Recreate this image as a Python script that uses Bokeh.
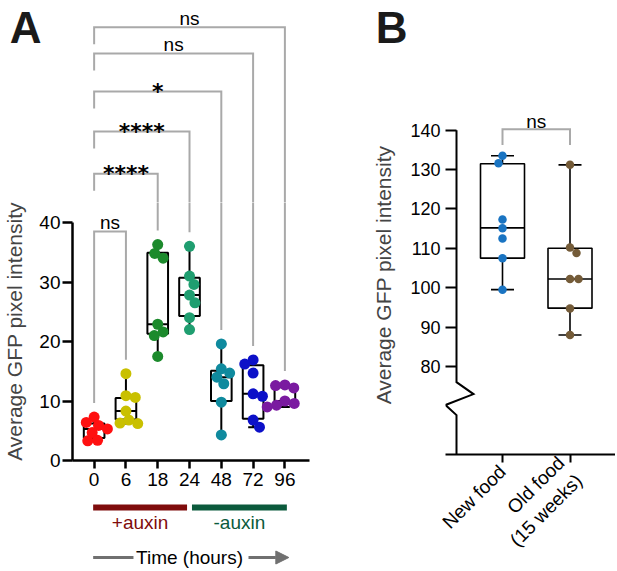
import math
from bokeh.plotting import figure
from bokeh.layouts import row, column
from bokeh.models import Range1d, FixedTicker, Arrow, NormalHead
from bokeh.embed import file_html
from bokeh.resources import INLINE
from bokeh.core.properties import value

# ---------------- data: panel A ----------------
time_labels = ["0", "6", "18", "24", "48", "72", "96"]
gfp_0h = [7.3, 6.4, 5.9, 5.3, 4.7, 3.4, 3.3]
gfp_6h = [14.6, 10.9, 10.6, 8.3, 6.8, 6.3, 6.2]
gfp_18h = [36.3, 34.8, 34.0, 22.9, 21.6, 21.0, 17.5]
gfp_24h = [36.0, 31.0, 29.6, 27.8, 26.5, 24.0, 22.0]
gfp_48h = [19.6, 15.4, 14.7, 14.0, 12.9, 9.8, 4.3]
gfp_72h = [16.9, 16.2, 14.7, 11.2, 10.8, 6.8, 5.6]
gfp_96h = [12.7, 12.6, 12.2, 10.0, 9.6, 9.3, 9.0]
a_q1 = [3.8, 6.9, 21.3, 24.3, 10.0, 7.0, 9.5]
a_median = [5.3, 8.3, 22.9, 27.8, 14.0, 11.2, 10.0]
a_q3 = [6.2, 10.5, 34.9, 30.7, 15.1, 16.0, 12.3]
a_ticks = [0, 10, 20, 30, 40]
comparison_labels = ["ns", "****", "****", "*", "ns", "ns"]   # 0 h vs 6..96 h
comparison_levels = [38.5, 48.2, 55.3, 62.0, 68.4, 72.8]
phase_labels = ["+auxin", "-auxin"]
phase_start = [0, 3]
phase_end = [3, 6]
axis_title = "Average GFP pixel intensity"
time_title = "Time (hours)"

# ---------------- data: panel B ----------------
food_labels = ["New food", "Old food\n(15 weeks)"]
new_food = [133.5, 131.6, 117.3, 115.1, 112.5, 107.5, 99.5]
old_food = [131.2, 110.2, 108.8, 102.2, 102.2, 94.7, 88.0]
b_q1 = [107.5, 94.8]
b_median = [115.2, 102.2]
b_q3 = [131.5, 110.0]
b_comparison = "ns"
b_comparison_level = 140.25
b_ticks = [80, 90, 100, 110, 120, 130, 140]

# ---------------- styles ----------------
FONT = "Liberation Sans"
A_COLORS = ["#ff1010", "#c9c000", "#1c8a2c", "#1f9e70", "#0f8a9e", "#0c10c8", "#7a1aa0"]
B_COLORS = ["#1a74c2", "#745b38"]
BRACKET = "#a9a9a9"
PLUS_COLOR = "#7f0c0c"
MINUS_COLOR = "#0b5a3c"
ARROW_GRAY = "#707070"
LETTER_SIZE = "44px"


def swarm(vals, px_y, diam, overlap=0.85):
    order = sorted(range(len(vals)), key=lambda i: -vals[i])
    placed = []
    offs = [0.0] * len(vals)
    for k, i in enumerate(order):
        y = vals[i] * px_y
        pref = 1 if k % 2 == 0 else -1
        chosen = 0.0
        done = False
        for step in range(400):
            for sg in (pref, -pref):
                o = sg * step * 0.5
                if all((o - po) ** 2 + (y - yy) ** 2 >= (diam * overlap) ** 2 for po, yy in placed):
                    chosen = o
                    done = True
                    break
            if done:
                break
        offs[i] = chosen
        placed.append((chosen, y))
    return offs


def style_fig(p):
    p.outline_line_color = None
    p.grid.grid_line_color = None
    p.background_fill_color = "white"
    p.border_fill_color = "white"


def letter_axis(p, tick, text, standoff):
    ax = p.yaxis[0]
    ax.ticker = FixedTicker(ticks=[tick])
    ax.major_label_overrides = {tick: text}
    ax.axis_line_color = None
    ax.major_tick_line_color = None
    ax.minor_tick_line_color = None
    ax.major_tick_in = 0
    ax.major_tick_out = 0
    ax.major_label_standoff = standoff
    ax.major_label_text_font = FONT
    ax.major_label_text_font_size = LETTER_SIZE
    ax.major_label_text_font_style = "bold"
    ax.major_label_text_color = "#1a1a1a"


TOTAL_H = 569
LETTER_MID = 27            # y (px) of the letters' text-box centre
common = dict(output_backend="svg", toolbar_location=None)

# ================= Panel A =================
A_PX_X, A_PX_Y = 32.33, 5.95
A_W = 310
A_BL, A_BR, A_BB = 68, 1, 35
A_X0 = 90                  # px of the first category
A_Y0 = 460                 # px of value 0
A_SPLIT = 202              # px where the bracket strip ends and the data frame starts
A_MAIN_END = 495


def a_val(py):
    return (A_Y0 - py) / A_PX_Y


xa_range = Range1d((A_BL - A_X0) / A_PX_X, (A_W - A_BR - A_X0) / A_PX_X)
split_val = a_val(A_SPLIT)

pA_top = figure(width=A_W, height=A_SPLIT, x_range=xa_range, y_range=Range1d(split_val, a_val(0)),
                x_axis_location=None, min_border_left=A_BL, min_border_right=A_BR,
                min_border_top=0, min_border_bottom=0, **common)
pA = figure(width=A_W, height=A_MAIN_END - A_SPLIT, x_range=xa_range, y_range=Range1d(0, split_val),
            min_border_left=A_BL, min_border_right=A_BR, min_border_top=0, min_border_bottom=A_BB, **common)
style_fig(pA_top)
style_fig(pA)
letter_axis(pA_top, round(a_val(LETTER_MID), 2), "A", 31)

groups = [gfp_0h, gfp_6h, gfp_18h, gfp_24h, gfp_48h, gfp_72h, gfp_96h]
n = len(groups)
xs = list(range(n))
gmax = [max(g) for g in groups]
gmin = [min(g) for g in groups]
hw = 10.5 / A_PX_X
cw = 5.0 / A_PX_X

pA.segment(x0=xs, y0=gmax, x1=xs, y1=a_q3, line_color="black", line_width=2)
pA.segment(x0=xs, y0=a_q1, x1=xs, y1=gmin, line_color="black", line_width=2)
pA.segment(x0=[x - cw for x in xs], y0=gmax, x1=[x + cw for x in xs], y1=gmax, line_color="black", line_width=2)
pA.segment(x0=[x - cw for x in xs], y0=gmin, x1=[x + cw for x in xs], y1=gmin, line_color="black", line_width=2)
pA.quad(left=[x - hw for x in xs], right=[x + hw for x in xs], bottom=a_q1, top=a_q3,
        fill_color=None, line_color="black", line_width=2)
pA.segment(x0=[x - hw for x in xs], y0=a_median, x1=[x + hw for x in xs], y1=a_median,
           line_color="black", line_width=2)

for gi, g in enumerate(groups):
    offs = swarm(g, A_PX_Y, 11)
    pA.scatter(x=[gi + o / A_PX_X for o in offs], y=g, size=11,
               fill_color=A_COLORS[gi], line_color=None)

# significance brackets (drawn in both frames, each clips to its own frame)
gap = 14 / A_PX_Y
leg = 17 / A_PX_Y
bx, by = [], []
for k, lev in enumerate(comparison_levels):
    j = k + 1
    left_bottom = gmax[0] + gap if k == 0 else lev - leg
    bx.append([0, 0, j, j])
    by.append([left_bottom, lev, lev, gmax[j] + gap])
for p in (pA_top, pA):
    p.multi_line(xs=bx, ys=by, line_color=BRACKET, line_width=2, line_join="miter")

NS_OFF = 9      # px between an "ns" baseline and its bracket
for p, in_top in ((pA_top, True), (pA, False)):
    def centre_px(k):
        lev_px = A_Y0 - comparison_levels[k] * A_PX_Y
        return lev_px - NS_OFF - 7 if comparison_labels[k] == "ns" else lev_px - 10
    sel = [k for k in range(len(comparison_levels)) if (centre_px(k) < A_SPLIT) == in_top]
    ns = [k for k in sel if comparison_labels[k] == "ns"]
    st = [k for k in sel if comparison_labels[k] != "ns"]
    if ns:
        p.text(x=[(k + 1) / 2 for k in ns], y=[comparison_levels[k] + NS_OFF / A_PX_Y for k in ns],
               text=[comparison_labels[k] for k in ns], text_align="center", text_baseline="alphabetic",
               text_font=value(FONT), text_font_size="19px", text_color="black")
    if st:
        p.text(x=[(k + 1) / 2 for k in st], y=[comparison_levels[k] for k in st],
               text=[comparison_labels[k] for k in st], text_align="center", text_baseline="alphabetic",
               text_font=value("DejaVu Sans"), text_font_style="bold", text_font_size="22px",
               text_color="black")

# axes
pA.xaxis.ticker = FixedTicker(ticks=xs)
pA.xaxis.major_label_overrides = {i: t for i, t in enumerate(time_labels)}
pA.yaxis.ticker = FixedTicker(ticks=a_ticks)
pA.yaxis.bounds = (a_ticks[0], a_ticks[-1])
pA.yaxis.axis_label = axis_title
pA.yaxis.axis_label_text_font = FONT
pA.yaxis.axis_label_text_font_style = "normal"
pA.yaxis.axis_label_text_font_size = "21px"
pA.yaxis.axis_label_standoff = 10
for ax in (pA.xaxis, pA.yaxis):
    ax.axis_line_width = 2.5
    ax.axis_line_color = "black"
    ax.major_tick_line_width = 2.5
    ax.major_tick_line_color = "black"
    ax.major_tick_in = 0
    ax.minor_tick_line_color = None
    ax.major_label_text_font = FONT
    ax.major_label_text_font_size = "19px"
    ax.major_label_text_color = "black"
pA.yaxis.major_tick_out = 10
pA.yaxis.major_label_standoff = 2
pA.xaxis.major_tick_out = 8
pA.xaxis.major_label_standoff = 4

# ---- Panel A bottom strip (treatment bars + time arrow) ----
AB_H = TOTAL_H - A_MAIN_END
pAb = figure(width=A_W, height=AB_H, x_range=xa_range, y_range=Range1d(AB_H, 0),
             x_axis_location=None, y_axis_location=None,
             min_border_left=A_BL, min_border_right=A_BR, min_border_top=0, min_border_bottom=0, **common)
style_fig(pAb)
half_gap = 2.5 / A_PX_X
bar_left = [s + (half_gap if s > 0 else -1 / A_PX_X) for s in phase_start]
bar_right = [e - (half_gap if e < n - 1 else -2 / A_PX_X) for e in phase_end]
phase_colors = [PLUS_COLOR, MINUS_COLOR]
pAb.hbar(y=[12, 12], left=bar_left, right=bar_right, height=6, fill_color=phase_colors, line_color=None)
pAb.text(x=[(l + r) / 2 for l, r in zip(bar_left, bar_right)], y=[27, 27], text=phase_labels,
         text_align="center", text_baseline="middle", text_font=value(FONT), text_font_size="19px",
         text_color=phase_colors)
mid = (n - 1) / 2
pAb.text(x=[mid], y=[62], text=[time_title], text_align="center", text_baseline="middle",
         text_font=value(FONT), text_font_size="19px", text_color="black")
pAb.segment(x0=[-1 / A_PX_X], y0=[62], x1=[40 / A_PX_X], y1=[62], line_color=ARROW_GRAY, line_width=3)
pAb.add_layout(Arrow(x_start=(n - 1) - 37 / A_PX_X, y_start=62, x_end=(n - 1) + 4 / A_PX_X, y_end=62,
                     line_color=ARROW_GRAY, line_width=3,
                     end=NormalHead(size=13, fill_color=ARROW_GRAY, line_color=ARROW_GRAY, line_width=1)))

# ================= Panel B =================
B_PX_X, B_PX_Y = 67.5, 3.97
B_W = 305
B_BL, B_BB = 135, 112
B_FRAME_LEFT = A_W + B_BL
B_X1 = 502                 # px of the first category
B_140 = 130                # px of value 140
B_SPLIT = 95               # px where the letter strip ends


def b_val(py):
    return 140 - (py - B_140) / B_PX_Y


B_ZERO = b_val(TOTAL_H - B_BB)      # plotted position of 0 on the broken axis
xb_range = Range1d(1 + (B_FRAME_LEFT - B_X1) / B_PX_X, 1 + (A_W + B_W - B_X1) / B_PX_X)

pB_top = figure(width=B_W, height=B_SPLIT, x_range=xb_range, y_range=Range1d(b_val(B_SPLIT), b_val(0)),
                x_axis_location=None, min_border_left=B_BL, min_border_right=0,
                min_border_top=0, min_border_bottom=0, **common)
pB = figure(width=B_W, height=TOTAL_H - B_SPLIT, x_range=xb_range, y_range=Range1d(B_ZERO, b_val(B_SPLIT)),
            min_border_left=B_BL, min_border_right=0, min_border_top=0, min_border_bottom=B_BB, **common)
style_fig(pB_top)
style_fig(pB)
letter_axis(pB_top, round(b_val(LETTER_MID), 2), "B", 38)

foods = [new_food, old_food]
bxs = [1, 2]
bmax = [max(g) for g in foods]
bmin = [min(g) for g in foods]
bhw = 22 / B_PX_X
bcw = 11.5 / B_PX_X
pB.segment(x0=bxs, y0=bmax, x1=bxs, y1=b_q3, line_color="black", line_width=1.6)
pB.segment(x0=bxs, y0=b_q1, x1=bxs, y1=bmin, line_color="black", line_width=1.6)
pB.segment(x0=[x - bcw for x in bxs], y0=bmax, x1=[x + bcw for x in bxs], y1=bmax, line_color="black", line_width=1.6)
pB.segment(x0=[x - bcw for x in bxs], y0=bmin, x1=[x + bcw for x in bxs], y1=bmin, line_color="black", line_width=1.6)
pB.quad(left=[x - bhw for x in bxs], right=[x + bhw for x in bxs], bottom=b_q1, top=b_q3,
        fill_color=None, line_color="black", line_width=1.6)
pB.segment(x0=[x - bhw for x in bxs], y0=b_median, x1=[x + bhw for x in bxs], y1=b_median,
           line_color="black", line_width=1.6)
for gi, g in enumerate(foods):
    offs = swarm(g, B_PX_Y, 8.5, overlap=1.0)
    pB.scatter(x=[bxs[gi] + o / B_PX_X for o in offs], y=g, size=8.5,
               fill_color=B_COLORS[gi], line_color=None)

# bracket
b_leg = 16 / B_PX_Y
pB.multi_line(xs=[[1, 1, 2, 2]], ys=[[b_comparison_level - b_leg, b_comparison_level,
                                      b_comparison_level, b_comparison_level - b_leg]],
              line_color=BRACKET, line_width=2, line_join="miter")
pB.text(x=[1.5], y=[b_comparison_level + 8 / B_PX_Y], text=[b_comparison], text_align="center",
        text_baseline="alphabetic", text_font=value(FONT), text_font_size="19px", text_color="black")

# broken y-axis line
ax_x = xb_range.start + 11 / B_PX_X
upper_start = 76
lower_top = B_ZERO + 10
pB.line(x=[ax_x, ax_x, ax_x + 17 / B_PX_X, ax_x - 11 / B_PX_X, ax_x, ax_x],
        y=[b_ticks[-1], upper_start, upper_start - 12 / B_PX_Y, upper_start - 23 / B_PX_Y, lower_top, B_ZERO],
        line_color="black", line_width=2, line_join="miter")

b_zero_tick = round(B_ZERO, 3)
pB.yaxis.ticker = FixedTicker(ticks=[b_zero_tick] + b_ticks)
overrides = {t: str(t) for t in b_ticks}
overrides[b_zero_tick] = "0"
pB.yaxis.major_label_overrides = overrides
pB.yaxis.axis_line_color = None
pB.yaxis.major_tick_in = 11
pB.yaxis.major_tick_out = 0
pB.yaxis.major_label_standoff = 5
pB.yaxis.axis_label = axis_title
pB.yaxis.axis_label_text_font = FONT
pB.yaxis.axis_label_text_font_style = "normal"
pB.yaxis.axis_label_text_font_size = "21px"
pB.yaxis.axis_label_standoff = 12
pB.xaxis.ticker = FixedTicker(ticks=bxs)
pB.xaxis.major_label_overrides = {1: food_labels[0], 2: food_labels[1]}
pB.xaxis.major_label_orientation = math.pi / 4
pB.xaxis.axis_line_width = 2
pB.xaxis.axis_line_color = "black"
pB.xaxis.major_tick_in = 0
pB.xaxis.major_tick_out = 8
pB.xaxis.major_label_standoff = 6
for ax in (pB.xaxis, pB.yaxis):
    ax.major_tick_line_width = 2
    ax.major_tick_line_color = "black"
    ax.minor_tick_line_color = None
    ax.major_label_text_font = FONT
    ax.major_label_text_color = "black"
pB.yaxis.major_label_text_font_size = "18px"
pB.xaxis.major_label_text_font_size = "19px"

layout = row(column(pA_top, pA, pAb), column(pB_top, pB))
open("out.html", "w").write(file_html(layout, INLINE))
